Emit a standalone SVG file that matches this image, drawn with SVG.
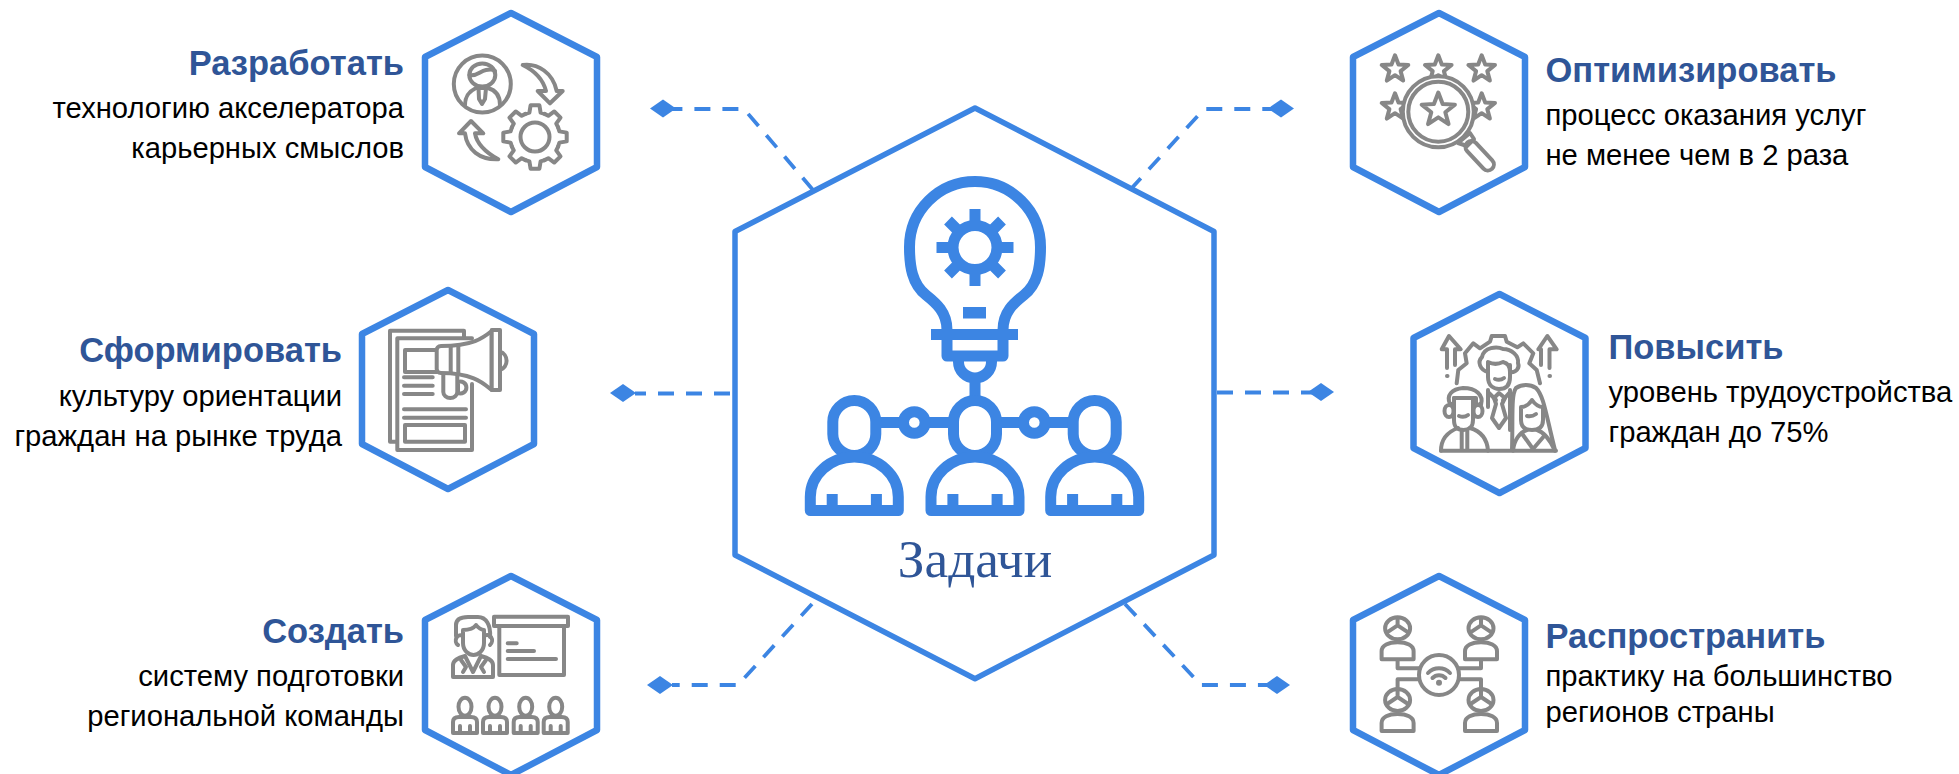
<svg xmlns="http://www.w3.org/2000/svg" xmlns:xlink="http://www.w3.org/1999/xlink" width="1959" height="774" viewBox="0 0 1959 774">
<style>
text{font-family:"Liberation Sans",Arial,sans-serif}
.t{font-size:34.500px;font-weight:700;fill:#2F5597}
.b{font-size:29.200px;fill:#000}
.e{text-anchor:end}
.hex{fill:#fff;stroke:#3C85E3;stroke-width:6.500;stroke-linejoin:round}
.g{fill:none;stroke:#878787;stroke-width:4;stroke-linejoin:round;stroke-linecap:round}
.gw{fill:#fff;stroke:#878787;stroke-width:4;stroke-linejoin:round;stroke-linecap:round}
.m{fill:none;stroke:#3C85E3;stroke-width:11;stroke-linejoin:round}
.mf{fill:#3C85E3}
.dash{fill:none;stroke:#3C85E3;stroke-width:3.800;stroke-dasharray:16 12}
.dia{fill:#3C85E3}
</style>
<defs>
<path id="gs" d="M-9.600-23.100L-5.600-24.400L-4.400-31.700H4.400L5.600-24.400L9.600-23.100"/>
<path id="star" d="M0-14L3.500-4.800L13.300-4.300L5.600 1.800L8.200 11.300L0 5.900L-8.200 11.300L-5.600 1.800L-13.300-4.300L-3.500-4.800Z"/>
<g id="person">
<rect x="-21.500" y="400.500" width="43" height="55" rx="21.500" ry="21.500" class="m"/>
<path d="M-44 510.500V497A44 40 0 0 1 44 497V510.500Z" class="m"/>
<rect x="-27.600" y="494" width="11" height="12" class="mf"/>
<rect x="16.600" y="494" width="11" height="12" class="mf"/>
</g>
<g id="aud" class="g">
<ellipse cx="0" cy="706.700" rx="6.500" ry="9"/>
<path d="M-12 733V722Q-12 717-6 717H6Q12 717 12 722V733Z"/>
<path d="M-5 726V733M5 726V733"/>
</g>
<g id="net" class="g">
<ellipse cx="0" cy="0" rx="12.500" ry="11"/>
<path d="M0-10V-3L-9 3M0-3L9 3"/>
<path d="M-16 31V23C-16 17-9 14 0 14C9 14 16 17 16 23V31Z"/>
</g>
</defs>
<rect width="1959" height="774" fill="#fff"/>

<g id="connectors">
<path class="dash" d="M813 190L744 109H672"/>
<path class="dash" d="M1130 190L1204 109H1290"/>
<path class="dash" d="M730 393.500H635"/>
<path class="dash" d="M1217 392.500H1320"/>
<path class="dash" d="M812 604L738 685H672"/>
<path class="dash" d="M1125 604L1201 685H1270"/>
<path class="dia" d="M650 108.500L663 99.500L676 108.500L663 117.500Z"/>
<path class="dia" d="M1268 108.500L1281 99.500L1294 108.500L1281 117.500Z"/>
<path class="dia" d="M610 393L623 384L636 393L623 402Z"/>
<path class="dia" d="M1308 392L1321 383L1334 392L1321 401Z"/>
<path class="dia" d="M647 685L660 676L673 685L660 694Z"/>
<path class="dia" d="M1264 685L1277 676L1290 685L1277 694Z"/>
</g>

<g id="main">
<path d="M975 108L1214 231.500V555L975 678.700L735 555V231.500Z" fill="#fff" stroke="#3C85E3" stroke-width="5.500" stroke-linejoin="round"/>
<path class="m" d="M947 330C947 312 936 303 926 295C912 284 909.500 266 909.500 247A65.500 65.500 0 0 1 1040.500 247C1040.500 266 1038 284 1024 295C1014 303 1003 312 1003 330"/>
<path class="m" d="M931 334.500H1018M947 334V356H1003V334M958.500 356V362A16.500 16 0 0 0 991.500 362V356M975 378V400"/>
<rect x="963" y="307" width="23" height="11.500" class="mf"/>
<g class="m" transform="translate(975 247.500)">
<circle r="22"/>
<path d="M0-22V-38.500M0 22V38.500M-22 0H-38.500M22 0H38.500M-15.500-15.500L-27-27M15.500-15.500L27-27M-15.500 15.500L-27 27M15.500 15.500L27 27"/>
</g>
<path class="m" d="M876 422.500H904M925 422.500H954M996 422.500H1024M1045 422.500H1073"/>
<circle cx="914.300" cy="422.500" r="10.800" class="m"/>
<circle cx="1034.300" cy="422.500" r="10.800" class="m"/>
<use xlink:href="#person" href="#person" x="854.300"/>
<use xlink:href="#person" href="#person" x="975"/>
<use xlink:href="#person" href="#person" x="1094.700"/>
<text x="975" y="577" text-anchor="middle" style="font-family:'Liberation Serif','Times New Roman',serif;font-size:53.300px;fill:#2F5597">Задачи</text>
</g>

<g id="node-razrabotat">
<path class="hex" d="M511 13L597 57V167L511 212L425 167V57Z"/>
<text class="t e" x="404" y="75">Разработать</text>
<text class="b e" x="404" y="118">технологию акселератора</text>
<text class="b e" x="404" y="158">карьерных смыслов</text>
<g class="g">
<circle cx="482.300" cy="84" r="28.500"/>
<ellipse cx="482.300" cy="75" rx="13" ry="11.500"/>
<path d="M469.500 75C476 77 480 71 486 70C489 69.500 493 69 495 71"/>
<path d="M465 105C465 95 470 91 476 88H488C495 90 500 95 500 105"/>
<path d="M478.500 88L479 99L482 104L485 99L486 88"/>
<path d="M522.700 65C538 63 553 73 556.700 91H562.700L550 103.300L537.700 91H546C543 79 533 70 522.700 65Z"/>
<path d="M498.300 159.300C480 160 467 150 465 133.300H459L471 121L483.300 133.300H475C477 145 487 153 498.300 159.300Z"/>
<circle cx="535" cy="137" r="14.500"/>
<g transform="translate(535 137)">
<use xlink:href="#gs" href="#gs"/><use xlink:href="#gs" href="#gs" transform="rotate(45)"/><use xlink:href="#gs" href="#gs" transform="rotate(90)"/><use xlink:href="#gs" href="#gs" transform="rotate(135)"/><use xlink:href="#gs" href="#gs" transform="rotate(180)"/><use xlink:href="#gs" href="#gs" transform="rotate(225)"/><use xlink:href="#gs" href="#gs" transform="rotate(270)"/><use xlink:href="#gs" href="#gs" transform="rotate(315)"/>
</g>
</g>
</g>

<g id="node-optimizirovat">
<path class="hex" d="M1439 13L1525 57V167L1439 212L1353 167V57Z"/>
<text class="t" x="1545.500" y="82">Оптимизировать</text>
<text class="b" x="1545.500" y="125">процесс оказания услуг</text>
<text class="b" x="1545.500" y="165">не менее чем в 2 раза</text>
<g class="g">
<use xlink:href="#star" href="#star" x="1395" y="69.300"/>
<use xlink:href="#star" href="#star" x="1438.300" y="69.300"/>
<use xlink:href="#star" href="#star" x="1481.700" y="69.300"/>
<use xlink:href="#star" href="#star" x="1395" y="107.300"/>
<use xlink:href="#star" href="#star" x="1481.700" y="107.300"/>
</g>
<circle class="gw" cx="1438.300" cy="111.700" r="35.500"/>
<circle class="g" cx="1438.300" cy="111.700" r="30"/>
<g class="g">
<path transform="translate(1438.300 110) scale(1.250)" stroke-width="3.200" d="M0-14L3.500-4.800L13.300-4.300L5.600 1.800L8.200 11.300L0 5.900L-8.200 11.300L-5.600 1.800L-13.300-4.300L-3.500-4.800Z"/>
<path d="M1458 143L1470 133L1474 139L1467 146Z"/>
<rect x="-17" y="-6" width="36" height="12" rx="6" transform="translate(1479 155) rotate(47)"/>
</g>
</g>

<g id="node-sformirovat">
<path class="hex" d="M448 290L534 334V444L448 489L362 444V334Z"/>
<text class="t e" x="342" y="362">Сформировать</text>
<text class="b e" x="342" y="406">культуру ориентации</text>
<text class="b e" x="342" y="446">граждан на рынке труда</text>
<g class="g">
<path d="M464 337V330.700H390V441.700H396.700"/>
<path d="M472 384V450H397.300V338.300H472"/>
<rect x="405" y="350" width="32" height="22"/>
<path d="M404 377.300H432.700M404 385.700H432.700M404 394H432.700M404 409.300H466M404 417.700H466"/>
<rect x="405" y="425" width="60" height="16.700"/>
<path d="M500 351.700A9 9.500 0 0 1 500 370"/>
<path class="gw" d="M458 382A6 6 0 1 1 458 393Z"/>
<path class="gw" d="M443.300 372V392A7 6 0 0 0 457.300 392V372Z"/>
<path class="gw" d="M441 346C473 346 483 338 491.700 331V390C485 385 475 373 441 373C438 373 436.700 371 436.700 369V350C436.700 348 438 346 441 346Z"/>
<path d="M450.700 346V373M458.300 346V373"/>
<rect class="gw" x="491.700" y="330" width="8.300" height="60"/>
</g>
</g>

<g id="node-povysit">
<path class="hex" d="M1499.500 294L1585.500 338V448L1499.500 493L1413.500 448V338Z"/>
<text class="t" x="1608.500" y="359">Повысить</text>
<text class="b" x="1608.500" y="402">уровень трудоустройства</text>
<text class="b" x="1608.500" y="442">граждан до 75%</text>
<g class="g">
<path d="M1447 368V349.300H1441.700L1449 336L1460.700 349.300H1455V365"/>
<path d="M1447 376H1447.500"/>
<path d="M1541 365V349.300H1538.300L1547.300 336L1556.700 349.300H1549.500V368"/>
<path d="M1549.500 376H1550"/>
<path d="M1456.700 383.300L1458.300 370L1466.700 363.300L1465 353.300L1473.300 343.300L1480 348.300L1490 341.700L1491.700 336H1505L1506.700 341.700L1517.300 347.300L1523.300 343.300L1533.300 353.300L1529.300 363.300L1536.700 370L1540 383.300"/>
<path d="M1488 365V377C1488 386 1494 389 1499 389C1505 389 1510 386 1510 377V365"/>
<path d="M1488 372C1480 370 1477 362 1482 357C1484 347 1497 346 1503 349C1512 349 1519 356 1518 363C1520 368 1516 373 1510 372C1510 367 1508 363 1503 362C1497 365 1492 364 1488 362Z"/>
<path d="M1495 379Q1500 381 1504 378"/>
<path d="M1488 390V407M1510 390V430M1488 392L1496 400M1510 392L1503 400"/>
<path d="M1494 398L1499 393L1505 398L1502 404L1506 418L1499 428L1492 418L1496 404Z"/>
<path d="M1450 404C1446 395 1452 389 1463 388C1476 388 1484 395 1481 405L1476 404V398H1454V404Z"/>
<path d="M1454 398H1473V420C1473 428 1468 430 1463.500 430C1458 430 1454 428 1454 420Z"/>
<ellipse cx="1449" cy="411" rx="4.500" ry="6"/>
<ellipse cx="1478" cy="411" rx="4.500" ry="6"/>
<path d="M1459 416Q1464 418 1468 415"/>
<path d="M1441 450.700C1441 437 1450 431 1458 428M1470 428C1480 431 1487 437 1488 450.700M1461.700 431V450M1467.300 431V450"/>
<path d="M1441 450.700H1556"/>
<path d="M1512 450C1513 415 1511 395 1516 388C1522 384 1530 384 1536 388C1544 396 1546 415 1555 450"/>
<path d="M1521 407V420C1521 428 1526 430 1532 430C1538 430 1543 428 1543 420V407C1537 407 1534 403 1532 400C1530 403 1526 407 1521 407Z"/>
<path d="M1527 416Q1532 417 1536 414"/>
<path d="M1513 450.700C1514 440 1520 432 1527 430M1537 430C1544 432 1550 440 1555 450.700M1523 435L1533 449L1545 435"/>
</g>
</g>

<g id="node-sozdat">
<path class="hex" d="M511 576L597 620V730L511 775L425 730V620Z"/>
<text class="t e" x="404" y="643">Создать</text>
<text class="b e" x="404" y="686">систему подготовки</text>
<text class="b e" x="404" y="726">региональной команды</text>
<g class="g">
<path d="M456 636V625C456 618 462 617 468 617H478C486 617 491 625 490 637"/>
<path d="M463 630C470 630 474 628 476 625C478 628 482 630 484 630V643C484 651 478 655 473.500 655C469 655 463 651 463 643Z"/>
<path d="M463 636A4.500 5 0 0 0 458 645M484 636A4.500 5 0 0 1 490 645"/>
<path d="M453 677V665C453 660 458 658 465 656L473 672L481 656C488 658 493 660 493 665V677Z"/>
<path d="M461 660L466 667L463 672M486 660L481 667L484 672"/>
<rect x="494" y="616.700" width="74" height="9.300"/>
<rect x="499.300" y="626" width="64.700" height="49"/>
<path d="M507.700 643.300H516.700M507.700 651H534M507.700 659H556"/>
</g>
<use xlink:href="#aud" href="#aud" x="465"/>
<use xlink:href="#aud" href="#aud" x="495"/>
<use xlink:href="#aud" href="#aud" x="525.700"/>
<use xlink:href="#aud" href="#aud" x="555.700"/>
</g>

<g id="node-rasprostranit">
<path class="hex" d="M1439 576L1525 620V730L1439 775L1353 730V620Z"/>
<text class="t" x="1545.500" y="648">Распространить</text>
<text class="b" x="1545.500" y="686">практику на большинство</text>
<text class="b" x="1545.500" y="722">регионов страны</text>
<use xlink:href="#net" href="#net" x="1397.600" y="628.300"/>
<use xlink:href="#net" href="#net" x="1481" y="628.300"/>
<use xlink:href="#net" href="#net" x="1397.600" y="700"/>
<use xlink:href="#net" href="#net" x="1481" y="700"/>
<g class="g">
<path d="M1397.600 660V668.300H1419M1481 660V668.300H1459M1397.600 688V679.300H1419M1481 688V679.300H1459"/>
<circle cx="1439" cy="675" r="20"/>
<path d="M1428 673A15 15 0 0 1 1450 673M1432.500 678A9 9 0 0 1 1445.500 678"/>
</g>
<circle cx="1439" cy="682.700" r="3" fill="#878787"/>
</g>
</svg>
